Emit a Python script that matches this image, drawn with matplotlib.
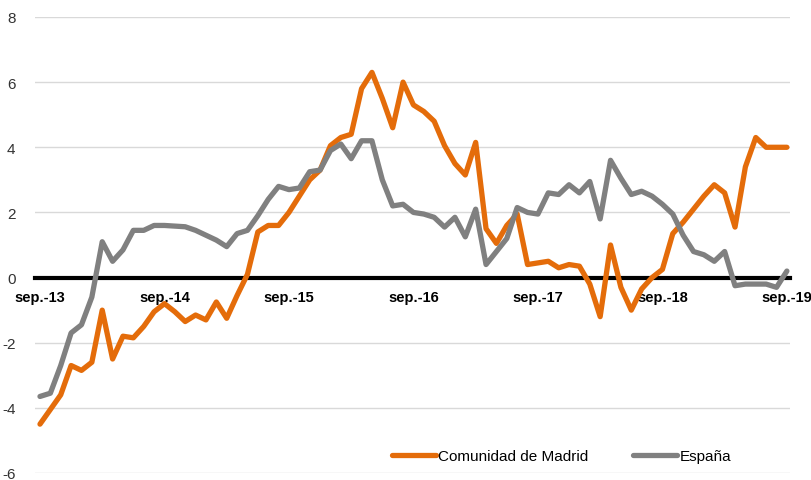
import matplotlib
matplotlib.use('Agg')
import matplotlib.pyplot as plt

# monthly series, sep-13 .. sep-19
madrid = [-4.5, -4.05, -3.6, -2.7, -2.85, -2.6, -1.0, -2.5, -1.8, -1.85,
          -1.5, -1.05, -0.8, -1.05, -1.35, -1.15, -1.3, -0.75, -1.25, -0.55,
          0.1, 1.4, 1.6, 1.6, 2.0, 2.5, 3.0, 3.3, 4.05, 4.3,
          4.4, 5.8, 6.3, 5.5, 4.6, 6.0, 5.3, 5.1, 4.8, 4.05,
          3.5, 3.15, 4.15, 1.5, 1.05, 1.6, 1.95, 0.4, 0.45, 0.5,
          0.3, 0.4, 0.35, -0.2, -1.2, 1.0, -0.3, -1.0, -0.35, 0.0,
          0.25, 1.35, 1.7, 2.1, 2.5, 2.85, 2.6, 1.55, 3.4, 4.3,
          4.0, 4.0, 4.0]
espana = [-3.65, -3.55, -2.7, -1.7, -1.45, -0.6, 1.1, 0.5, 0.85, 1.45,
          1.45, 1.6, 1.6, 1.58, 1.56, 1.45, 1.3, 1.15, 0.95, 1.35,
          1.45, 1.9, 2.4, 2.8, 2.7, 2.75, 3.25, 3.3, 3.9, 4.1,
          3.65, 4.2, 4.2, 3.0, 2.2, 2.25, 2.0, 1.95, 1.85, 1.55,
          1.85, 1.25, 2.1, 0.4, 0.8, 1.2, 2.15, 2.0, 1.95, 2.6,
          2.55, 2.85, 2.6, 2.95, 1.8, 3.6, 3.05, 2.55, 2.65, 2.5,
          2.25, 1.95, 1.3, 0.8, 0.7, 0.5, 0.8, -0.25, -0.2, -0.2,
          -0.2, -0.3, 0.2]
tick_pos = [0, 12, 24, 36, 48, 60, 72]
tick_labels = ['sep.-13', 'sep.-14', 'sep.-15', 'sep.-16', 'sep.-17', 'sep.-18', 'sep.-19']

plt.rcParams['font.family'] = ['Liberation Sans', 'DejaVu Sans']
plt.rcParams['axes.unicode_minus'] = False

fig = plt.figure(figsize=(8.11, 4.81), dpi=100)
ax = fig.add_axes([35 / 811, 7 / 481, 755 / 811, 456 / 481])

x = list(range(len(madrid)))
ax.plot(x, madrid, color='#E46C0A', lw=3.8, solid_joinstyle='round',
        solid_capstyle='round', label='Comunidad de Madrid', zorder=3)
ax.plot(x, espana, color='#808080', lw=3.8, solid_joinstyle='round',
        solid_capstyle='round', label='España', zorder=3)

ax.set_xlim(-0.48, 72.3)
ax.set_ylim(-6, 8)
ax.set_yticks(range(-6, 9, 2))
ax.yaxis.grid(True, color='#d9d9d9', lw=1)
ax.set_axisbelow(True)

for s in ['top', 'right', 'left']:
    ax.spines[s].set_visible(False)
ax.spines['bottom'].set_position(('data', 0))
ax.spines['bottom'].set_linewidth(3)
ax.spines['bottom'].set_zorder(2)

ax.set_xticks(tick_pos)
ax.set_xticklabels(tick_labels, fontweight='bold', fontsize=10.5)
ax.tick_params(axis='x', length=0, pad=9)
ax.tick_params(axis='y', length=0, pad=14, labelsize=11, labelcolor='#333333')

fig.legend(loc='center', bbox_to_anchor=(0.692, 0.05), ncol=2, frameon=False,
           fontsize=11, handlelength=2.9, handletextpad=0.15, columnspacing=2.9)

fig.savefig('out.png', dpi=100)
